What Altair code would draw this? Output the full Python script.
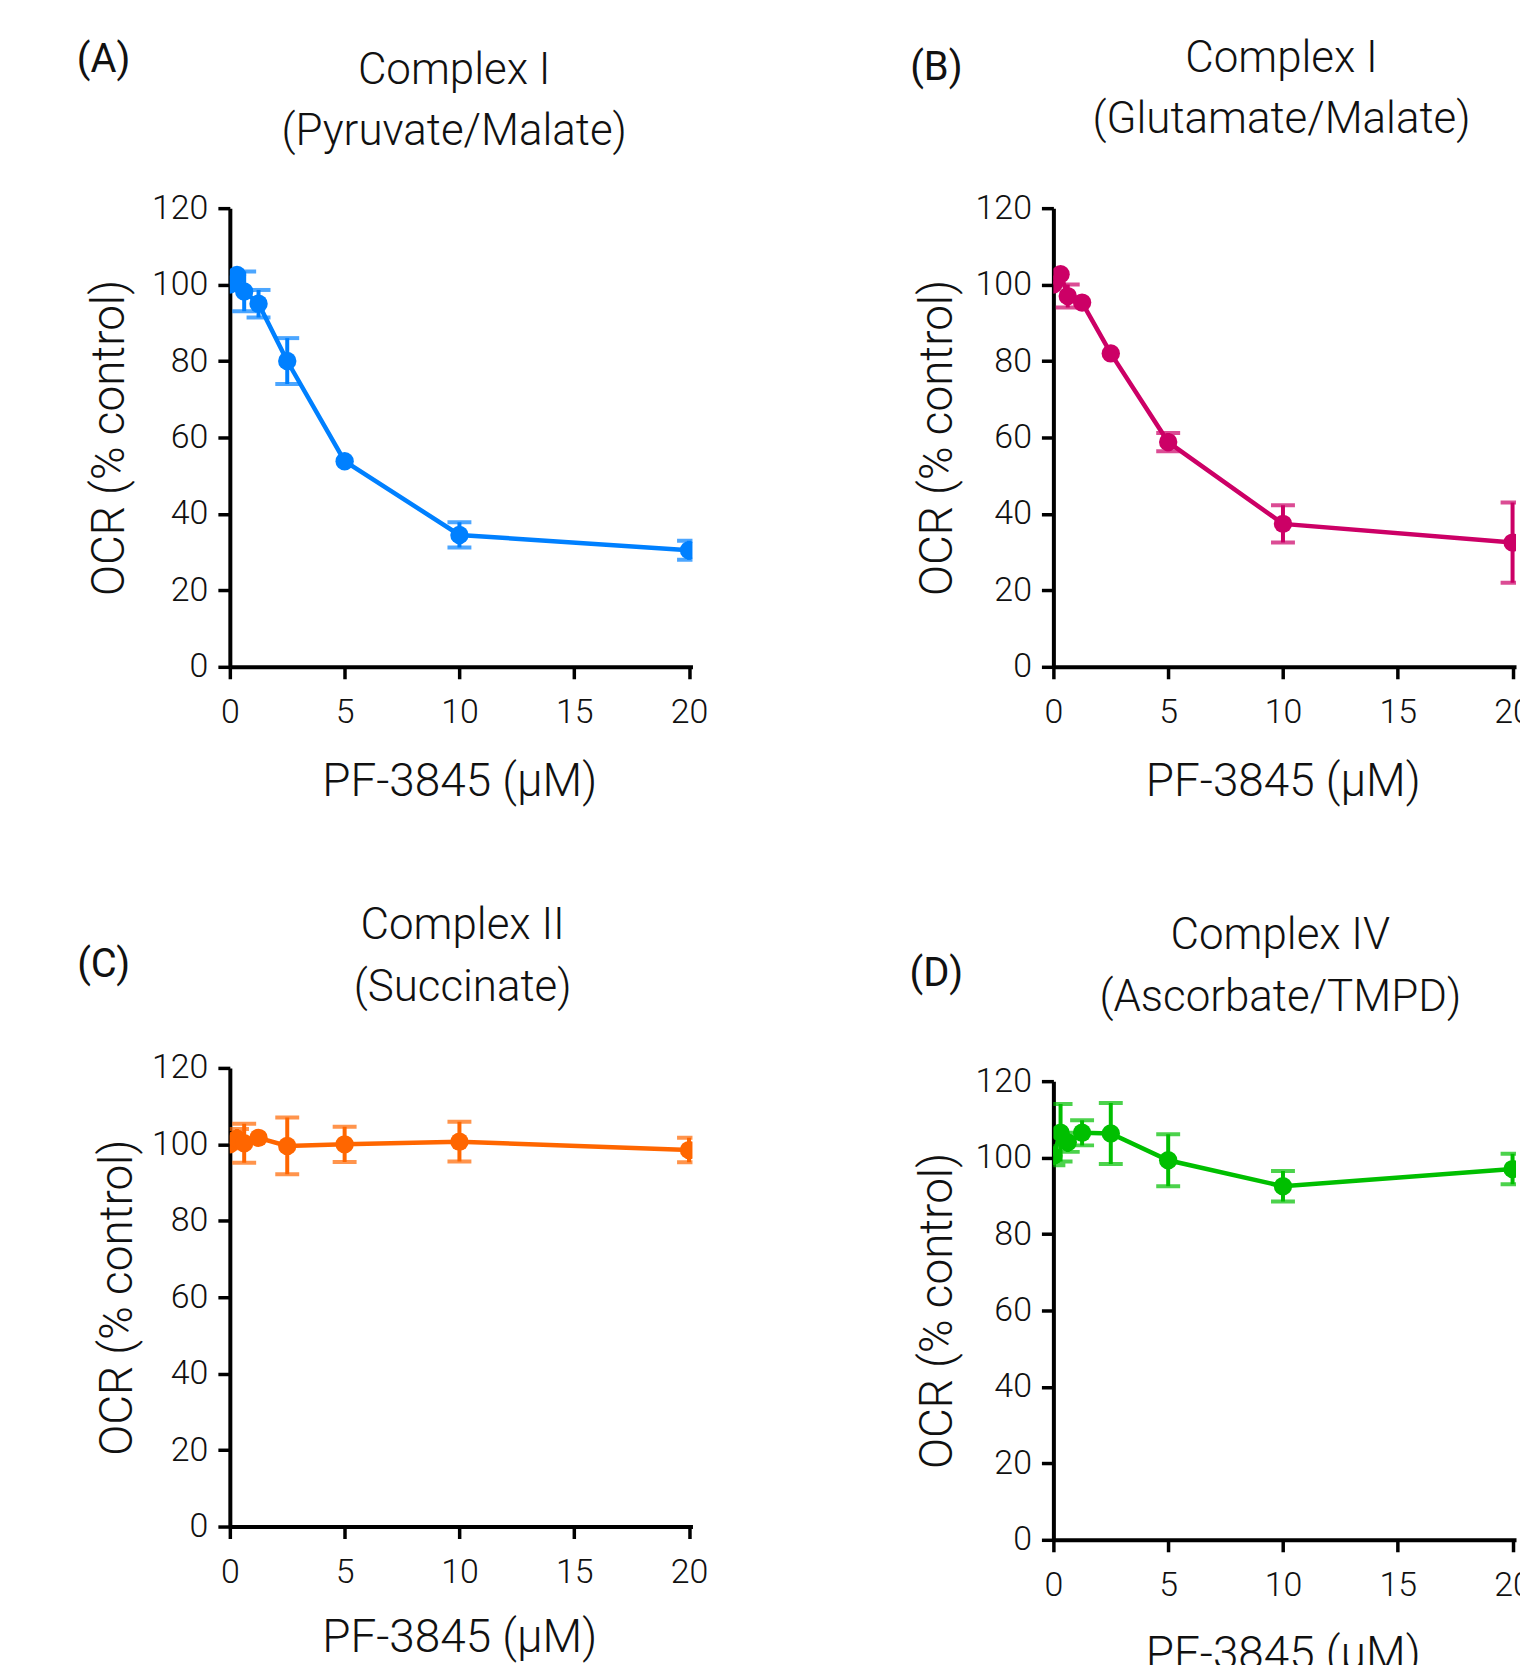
import altair as alt
import pandas as pd

# concentrations of PF-3845 (uM)
conc = [0, 0.3125, 0.625, 1.25, 2.5, 5, 10, 20]

a_mean = [100, 102.5, 98.2, 95.0, 80.0, 53.8, 34.5, 30.5]
a_sem = [0, 0, 5.2, 3.6, 6.0, 0, 3.3, 2.5]

b_mean = [100, 102.7, 97.0, 95.3, 82.0, 58.8, 37.4, 32.5]
b_sem = [0, 0, 3.0, 0, 0, 2.4, 4.9, 10.5]

c_mean = [100, 101.5, 100.3, 101.7, 99.6, 100.0, 100.7, 98.5]
c_sem = [0, 2.5, 5.1, 0, 7.4, 4.6, 5.2, 3.2]

d_mean = [100.5, 106.5, 104.0, 106.5, 106.3, 99.3, 92.5, 97.0]
d_sem = [2.5, 7.5, 2.5, 3.3, 8.0, 6.8, 4.0, 4.0]

x_ticks = [0, 5, 10, 15, 20]
y_ticks = [0, 20, 40, 60, 80, 100, 120]

FONT = "Roboto"
W, H = 464, 460


def text_layer(s, size, weight, x, y):
    return alt.Chart(pd.DataFrame({"t": [s]})).mark_text(
        font=FONT, fontSize=size, fontWeight=weight, color="#111", align="center",
        baseline="alphabetic").encode(text="t:N", x=alt.value(x), y=alt.value(y))


def panel(mean, sem, color, letter, t1, t2, lx, ly, tx, ty1, ty2, ytx, xty=129):
    df = pd.DataFrame({"conc": conc, "mean": mean, "sem": sem})
    df["lo"] = df["mean"] - df["sem"]
    df["hi"] = df["mean"] + df["sem"]
    base = alt.Chart(df)
    x = alt.X("conc:Q", scale=alt.Scale(domain=[0, 20.15], nice=False),
              axis=alt.Axis(values=x_ticks, title="PF-3845 (μM)", labelFlush=False,
                            labelPadding=17, titleY=xty, titleX=230,
                            titleBaseline="alphabetic", titleAlign="center",
                            labelOverlap=False))
    y = alt.Y("mean:Q", scale=alt.Scale(domain=[0, 120], nice=False),
              axis=alt.Axis(values=y_ticks, title="OCR (% control)", labelFlush=False,
                            labelPadding=10, titleX=ytx, titleY=H / 2,
                            titleBaseline="alphabetic", titleAlign="center",
                            labelOverlap=False))
    line = base.mark_line(color=color, strokeWidth=4.5, clip=True).encode(x=x, y=y)
    err = base.transform_filter("datum.sem > 0")
    rule = err.mark_rule(color=color, strokeWidth=4, clip=True).encode(
        x="conc:Q", y="lo:Q", y2="hi:Q")
    cap_lo = err.mark_tick(color=color, orient="horizontal", size=24, thickness=4,
                           clip=True).encode(x="conc:Q", y="lo:Q")
    cap_hi = err.mark_tick(color=color, orient="horizontal", size=24, thickness=4,
                           clip=True).encode(x="conc:Q", y="hi:Q")
    pts = base.mark_point(color=color, filled=True, opacity=1, size=340, shape="circle",
                          clip=True).encode(x="conc:Q", y="mean:Q")
    lab = text_layer(letter, 40, 400, lx, ly)
    tl1 = text_layer(t1, 44, 300, tx, ty1)
    tl2 = text_layer(t2, 44, 300, tx, ty2)
    return alt.layer(line, rule, cap_lo, cap_hi, pts, lab, tl1, tl2).properties(
        width=W, height=H)


pa = panel(a_mean, a_sem, "#0080FF", "(A)", "Complex I", "(Pyruvate/Malate)",
           -126.6, -136.9, 225, -125, -63.2, -106.5)
pb = panel(b_mean, b_sem, "#CC0066", "(B)", "Complex I", "(Glutamate/Malate)",
           -117.4, -128.4, 228.8, -136.7, -75, -102.6)
pc = panel(c_mean, c_sem, "#FF6600", "(C)", "Complex II", "(Succinate)",
           -126.6, -90.8, 233.5, -128.9, -67.2, -99.1, xty=125)
pd_ = panel(d_mean, d_sem, "#00BF00", "(D)", "Complex IV", "(Ascorbate/TMPD)",
            -117.4, -95.4, 227.6, -132.4, -70.7, -102.6)

col1 = alt.vconcat(pa, pc, spacing=100.3)
col2 = alt.vconcat(pb, pd_, spacing=109.6)

chart = alt.hconcat(col1, col2, spacing=201).properties(
    padding={"left": 68.5, "top": 26.3, "right": -12, "bottom": -15}
).configure_axis(
    domainColor="black", domainWidth=4, tickColor="black", tickWidth=3.5,
    tickSize=12, grid=False, labelFont=FONT, labelFontSize=34, labelFontWeight=300,
    labelColor="#111", titleFont=FONT, titleFontSize=46, titleFontWeight=300,
    titleColor="#111"
).configure_view(stroke=None)

chart.save("out.html", embed_options={"renderer": "svg", "actions": False})
